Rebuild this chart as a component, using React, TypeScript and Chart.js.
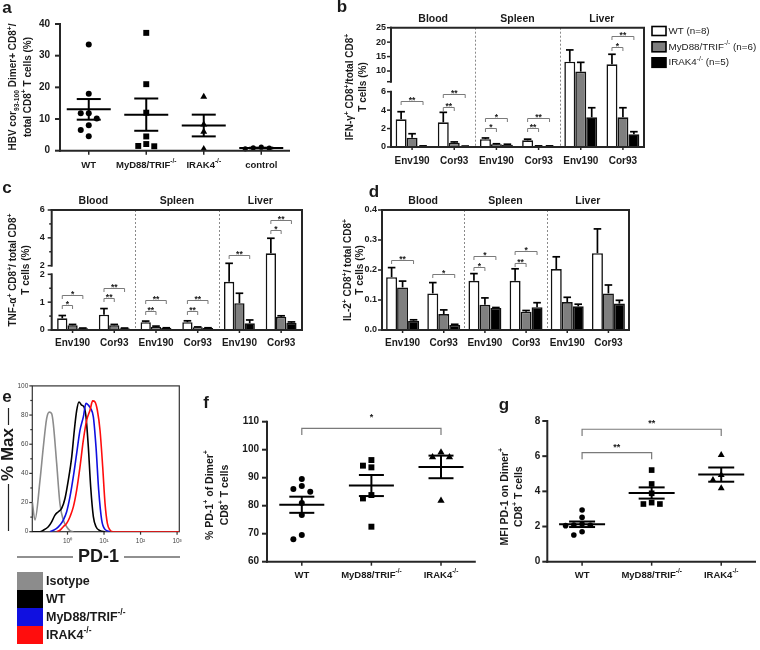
import React, { useEffect, useRef } from 'react';
import { Chart, registerables, LinearScale } from 'chart.js';

Chart.register(...registerables);

/* ====================== DATA ====================== */
// panel a
const aLabels = ['WT', 'MyD88/TRIF^{-/-}', 'IRAK4^{-/-}', 'control'];
const aWT = [33.5, 18, 11.8, 11.8, 10.2, 8, 6.5, 4.6];
const aMyD = [37.2, 21, 12, 4.5, 2.1, 1.5, 1.4];
const aIRAK = [17, 8.3, 6, 0.5];
const aCtrl = [1.1, 0.9, 0.8, 0.6];
const aTicks = [0, 10, 20, 30, 40];

// panels b, c, d
const sections = ['Blood', 'Spleen', 'Liver'];
const peptides = ['Env190', 'Cor93', 'Env190', 'Cor93', 'Env190', 'Cor93'];
const bLegend = ['WT (n=8)', 'MyD88/TRIF^{-/-} (n=6)', 'IRAK4^{-/-} (n=5)'];

const bWT = [3.0, 2.68, 0.85, 0.72, 13.2, 12.3];
const bWTErr = [0.83, 1.08, 0.13, 0.13, 4.1, 3.5];
const bMyD = [1.0, 0.47, 0.3, 0.1, 9.8, 3.22];
const bMyDErr = [0.44, 0.08, 0.05, 0.02, 3.2, 1.04];
const bIRAK = [0.1, 0.08, 0.25, 0.1, 3.22, 1.37];
const bIRAKErr = [0.02, 0.02, 0.05, 0.02, 1.04, 0.29];
const bTicks = [0, 2, 4, 6, 10, 15, 20, 25];
const bBreak = [6, 6.3];
const bSig: [number, number, number, string][] = [
  [0, 2, 5.0, '**'], [1, 1, 4.37, '**'], [1, 2, 5.75, '**'],
  [2, 1, 2.03, '*'], [2, 2, 3.1, '*'], [3, 1, 2.03, '**'], [3, 2, 3.1, '**'],
  [5, 1, 18.4, '*'], [5, 2, 22.2, '**'],
];

const cWT = [0.42, 0.55, 0.28, 0.28, 1.73, 2.89];
const cWTErr = [0.1, 0.22, 0.04, 0.05, 0.44, 1.08];
const cMyD = [0.17, 0.17, 0.12, 0.1, 0.96, 0.48];
const cMyDErr = [0.03, 0.03, 0.02, 0.01, 0.36, 0.03];
const cIRAK = [0.06, 0.06, 0.07, 0.07, 0.24, 0.26];
const cIRAKErr = [0.01, 0.01, 0.01, 0.01, 0.12, 0.03];
const cTicks = [0, 1, 2, 4, 6];
const cMinor = [0.5, 1.5, 3, 5];
const cBreak = [2, 2.0001];
const cSig: [number, number, number, string][] = [
  [0, 1, 0.9, '*'], [0, 2, 1.26, '*'], [1, 1, 1.15, '**'], [1, 2, 1.5, '**'],
  [2, 1, 0.68, '**'], [2, 2, 1.06, '**'], [3, 1, 0.68, '**'], [3, 2, 1.06, '**'],
  [4, 2, 2.8, '**'], [5, 1, 4.57, '*'], [5, 2, 5.29, '**'],
];

const dWT = [0.176, 0.122, 0.164, 0.164, 0.203, 0.256];
const dWTErr = [0.032, 0.036, 0.024, 0.04, 0.041, 0.081];
const dMyD = [0.142, 0.053, 0.084, 0.061, 0.093, 0.122];
const dMyDErr = [0.021, 0.014, 0.023, 0.004, 0.016, 0.028];
const dIRAK = [0.031, 0.017, 0.073, 0.076, 0.079, 0.088];
const dIRAKErr = [0.003, 0.002, 0.002, 0.015, 0.007, 0.011];
const dTicks = [0, 0.1, 0.2, 0.3, 0.4];
const dSig: [number, number, number, string][] = [
  [0, 2, 0.233, '**'], [1, 2, 0.186, '*'], [2, 1, 0.211, '*'], [2, 2, 0.248, '*'],
  [3, 1, 0.224, '**'], [3, 2, 0.263, '*'],
];

// panel e (histogram, PD-1 log axis vs % Max)
const eLegend = ['Isotype', 'WT', 'MyD88/TRIF^{-/-}', 'IRAK4^{-/-}'];
const eIsoX = [0.1088, 0.1287, 0.1764, 0.2177, 0.2686, 0.3179, 0.3683, 0.4091, 0.5049, 0.623, 0.7688, 0.9488, 1.171, 1.445];
const eIsoY = [20.5, 8, 35, 58, 77.6, 82, 81, 74, 47, 19, 8, 3.4, 0.7, 0];
const eWTX = [0.1088, 0.1764, 0.2177, 0.2985, 0.3683, 0.4545, 0.5608, 0.6921, 0.854, 1.054, 1.301, 1.539, 1.783, 2.066, 2.444, 2.832, 3.212, 3.722, 4.312, 5.103, 6.037, 7.77, 10.65];
const eWTY = [0, 0, 1, 3.4, 6.8, 11.4, 13.7, 16, 22.8, 35.4, 51, 69.6, 83, 89, 86.8, 85.6, 78.8, 58, 30.8, 10.3, 3.4, 0.7, 0];
const eMyDX = [0.3316, 0.4091, 0.5049, 0.623, 0.7688, 0.9488, 1.171, 1.445, 1.783, 2.2, 2.715, 3.212, 3.722, 4.312, 5.103, 6.037, 7.143, 8.632, 10.65, 14.6];
const eMyDY = [0, 1, 2.3, 4.6, 8, 13.7, 24, 37.7, 53.7, 69.6, 78.8, 88, 86.8, 84.5, 78.8, 58, 28.5, 8, 1.6, 0];
const eIRAKX = [0.5049, 0.623, 0.7688, 0.9488, 1.171, 1.445, 1.783, 2.2, 2.715, 3.35, 4.135, 4.892, 5.668, 6.568, 7.77, 9.194, 10.65, 12.34, 14.6, 18.02, 1150];
const eIRAKY = [0, 1, 3.4, 5.7, 10.3, 17, 28.5, 44.5, 62.8, 76.5, 83.3, 89.7, 89, 83.3, 69.6, 44.5, 19.4, 5.7, 1.1, 0, 0];
const eXTicks = [1, 10, 100, 1000];
const eXLabels = ['10\u2070', '10\u00b9', '10\u00b2', '10\u00b3'];
const eYTicks = [0, 20, 40, 60, 80, 100];
const eYMinor = [10, 30, 50, 70, 90];

// panels f, g
const fgLabels = ['WT', 'MyD88/TRIF^{-/-}', 'IRAK4^{-/-}'];
const fWT = [89.5, 87, 86, 85, 81, 76.7, 69.5, 68];
const fMyD = [96.3, 94.3, 93.7, 83.8, 82.6, 72.5];
const fIRAK = [99, 97.3, 97.3, 81.8];
const fTicks = [60, 70, 80, 90, 100, 110];
const fSig: [number, number, number, string][] = [[0, 2, 107.6, '*']];
const gWT = [2.94, 2.52, 2.14, 2.08, 2.07, 2.05, 1.7, 1.52];
const gMyD = [5.21, 4.42, 3.89, 3.36, 3.28, 3.28];
const gIRAK = [6.07, 4.93, 4.64, 4.17];
const gTicks = [0, 2, 4, 6, 8];
const gSig: [number, number, number, string][] = [[0, 1, 6.2, '**'], [0, 2, 7.53, '**']];

/* ====================== HELPERS ====================== */
const FAM = '"Liberation Sans", Arial, Helvetica, sans-serif';
const TXT = '#1a1a1a';
const AXC = '#262626';
const BRK = '#7a7a7a';

type Rect = { x: number; y: number; w: number; h: number };
type Area = { l: number; t: number; r: number; b: number };

function makeBroken(id: string, kv: number[], kf: number[]) {
  class Broken extends (LinearScale as any) {
    static id = id;
    getPixelForValue(value: number) {
      let i = 0;
      while (i < kv.length - 2 && value > kv[i + 1]) i++;
      const f = kf[i] + ((value - kv[i]) / (kv[i + 1] - kv[i])) * (kf[i + 1] - kf[i]);
      return (this as any).getPixelForDecimal(f);
    }
    getValueForPixel(pixel: number) {
      const f = (this as any).getDecimalForPixel(pixel);
      let i = 0;
      while (i < kf.length - 2 && f > kf[i + 1]) i++;
      return kv[i] + ((f - kf[i]) / (kf[i + 1] - kf[i])) * (kv[i + 1] - kv[i]);
    }
  }
  return Broken;
}
const BrokenB = makeBroken('brokenB', [0, bBreak[0], bBreak[1], 25], [0, 0.4635, 0.5474, 1]);
const BrokenC = makeBroken('brokenC', [0, cBreak[0], cBreak[1], 6], [0, 0.464, 0.536, 1]);
Chart.register(BrokenB as any, BrokenC as any);

function line(ctx: any, x0: number, y0: number, x1: number, y1: number) {
  ctx.beginPath();
  ctx.moveTo(x0, y0);
  ctx.lineTo(x1, y1);
  ctx.stroke();
}

function parseRich(s: string) {
  const out: { t: string; k: number }[] = [];
  let buf = '';
  let i = 0;
  while (i < s.length) {
    const c = s[i];
    if ((c === '^' || c === '_') && s[i + 1] === '{') {
      if (buf) { out.push({ t: buf, k: 0 }); buf = ''; }
      const end = s.indexOf('}', i + 2);
      out.push({ t: s.slice(i + 2, end), k: c === '^' ? 1 : -1 });
      i = end + 1;
    } else { buf += c; i++; }
  }
  if (buf) out.push({ t: buf, k: 0 });
  return out;
}

function rich(ctx: any, s: string, x: number, y: number, size: number, o: any = {}) {
  const segs = parseRich(s);
  const wt = o.bold === false ? '' : 'bold ';
  const font = (k: number) => `${wt}${k ? Math.round(size * 0.68 * 10) / 10 : size}px ${FAM}`;
  let total = 0;
  const widths = segs.map((sg) => { ctx.font = font(sg.k); const m = ctx.measureText(sg.t).width; total += m; return m; });
  ctx.save();
  ctx.translate(x, y);
  if (o.rot) ctx.rotate(-Math.PI / 2);
  ctx.fillStyle = o.color || TXT;
  ctx.textBaseline = 'middle';
  ctx.textAlign = 'left';
  let cx = o.align === 'left' ? 0 : o.align === 'right' ? -total : -total / 2;
  segs.forEach((sg, i) => {
    ctx.font = font(sg.k);
    const dy = sg.k === 1 ? -size * 0.36 : sg.k === -1 ? size * 0.3 : 0;
    ctx.fillText(sg.t, cx, dy);
    cx += widths[i];
  });
  ctx.restore();
}

function meanSem(v: number[]) {
  const n = v.length;
  const m = v.reduce((a, b) => a + b, 0) / n;
  const sd = Math.sqrt(v.reduce((a, b) => a + (b - m) * (b - m), 0) / (n - 1));
  return [m, sd / Math.sqrt(n)];
}

// beeswarm placement of dots around a group centre (layout only)
function swarm(vals: number[], g: number, pxY: number, pxX: number, d: number, step: number) {
  const placed: { dx: number; py: number }[] = [];
  return vals.map((v) => {
    const py = v * pxY;
    let dx = 0;
    for (const k of [0, -1, 1, -2, 2, -3, 3, -4, 4]) {
      dx = k * step;
      if (placed.every((p) => Math.hypot(p.dx - dx, p.py - py) >= d)) break;
    }
    placed.push({ dx, py });
    return { x: g + dx / pxX, y: v };
  });
}

function base(cv: Rect, ar: Area) {
  return {
    responsive: false,
    maintainAspectRatio: false,
    animation: false,
    devicePixelRatio: 1,
    events: [],
    layout: { padding: { left: 0, top: ar.t - cv.y, right: cv.x + cv.w - ar.r, bottom: 0 } },
    plugins: { legend: { display: false }, tooltip: { enabled: false }, title: { display: false } },
  };
}
const noGrid = { display: false, drawTicks: false };
const noBorder = { display: false };

/* ====================== SCATTER PANELS (a, f, g) ====================== */
function makeScatter(canvas: HTMLCanvasElement, cv: Rect, ar: Area, P: any) {
  const n = P.sets.length;
  const pxY = (ar.b - ar.t) / (P.yMax - P.yMin);
  const pxX = (ar.r - ar.l) / n;
  const plugin = {
    id: 'sdeco',
    afterDraw(chart: any) {
      const ctx = chart.ctx;
      const xs = chart.scales.x, ys = chart.scales.y;
      const { left, right, bottom } = chart.chartArea;
      ctx.save();
      ctx.strokeStyle = AXC; ctx.lineWidth = 2;
      line(ctx, left, ys.getPixelForValue(P.yMax) - 1, left, bottom + 1);
      line(ctx, left - 1, bottom, right, bottom);
      P.ticks.forEach((t: number) => { const py = ys.getPixelForValue(t); line(ctx, left - 5, py, left, py); });
      ctx.lineWidth = 1.5;
      for (let g = 0; g < n; g++) { const px = xs.getPixelForValue(g); line(ctx, px, bottom, px, bottom + 4); }
      ctx.strokeStyle = '#000'; ctx.lineWidth = 2;
      P.sets.forEach((vals: number[], g: number) => {
        const [m, se] = meanSem(vals);
        const px = xs.getPixelForValue(g);
        const pm = ys.getPixelForValue(m), pu = ys.getPixelForValue(m + se), pl = ys.getPixelForValue(m - se);
        line(ctx, px - P.meanHalf, pm, px + P.meanHalf, pm);
        line(ctx, px - P.semHalf, pu, px + P.semHalf, pu);
        line(ctx, px - P.semHalf, pl, px + P.semHalf, pl);
        line(ctx, px, pu, px, pl);
      });
      ctx.strokeStyle = BRK; ctx.lineWidth = 1.2;
      P.sig.forEach(([a, b, v, lab]: any) => {
        const x0 = xs.getPixelForValue(a), x1 = xs.getPixelForValue(b), py = ys.getPixelForValue(v);
        ctx.beginPath(); ctx.moveTo(x0, py + P.drop); ctx.lineTo(x0, py); ctx.lineTo(x1, py); ctx.lineTo(x1, py + P.drop); ctx.stroke();
        ctx.fillStyle = TXT; ctx.font = `bold 9px ${FAM}`; ctx.textAlign = 'center'; ctx.textBaseline = 'alphabetic';
        ctx.fillText(lab, (x0 + x1) / 2, py + P.starDy);
      });
      P.labels.forEach((lab: string, g: number) => rich(ctx, lab, xs.getPixelForValue(g), bottom + P.labDy, 9.5));
      ctx.translate(-cv.x, -cv.y);
      P.titles.forEach(([t, x, y]: any) => rich(ctx, t, x, y, P.tsize, { rot: true }));
      rich(ctx, P.letter[0], P.letter[1], P.letter[2], 17);
      ctx.restore();
    },
  };
  return new Chart(canvas, {
    type: 'scatter',
    data: {
      datasets: P.sets.map((vals: number[], g: number) => ({
        data: swarm(vals, g, pxY, pxX, P.dot, P.step),
        pointStyle: P.styles[g],
        pointRadius: P.radii[g],
        backgroundColor: '#000',
        borderColor: '#000',
        borderWidth: 0,
        clip: false,
      })),
    },
    options: {
      ...base(cv, ar),
      scales: {
        x: {
          type: 'linear', min: -0.5, max: n - 0.5, grid: noGrid, border: noBorder,
          ticks: { display: false },
          afterFit: (s: any) => { s.height = cv.y + cv.h - ar.b; },
        },
        y: {
          type: 'linear', min: P.yMin, max: P.yMax, grid: noGrid, border: noBorder,
          afterBuildTicks: (s: any) => { s.ticks = P.ticks.map((v: number) => ({ value: v })); },
          ticks: { font: { family: FAM, size: 10, weight: 'bold' }, color: TXT, padding: P.yPad, autoSkip: false },
          afterFit: (s: any) => { s.width = ar.l - cv.x; },
        },
      },
    } as any,
    plugins: [plugin],
  });
}

/* ====================== BAR PANELS (b, c, d) ====================== */
function makeBar(canvas: HTMLCanvasElement, cv: Rect, ar: Area, P: any) {
  const allTicks = [...P.ticks, ...P.minor, ...P.extra].sort((a: number, b: number) => a - b);
  const fills = ['#ffffff', '#7f7f7f', '#000000'];
  const plugin = {
    id: 'bdeco',
    afterDraw(chart: any) {
      const ctx = chart.ctx;
      const xs = chart.scales.x, ys = chart.scales.y;
      const { left, right, top, bottom } = chart.chartArea;
      ctx.save();
      ctx.strokeStyle = '#8a8a8a'; ctx.lineWidth = 1; ctx.setLineDash([2, 2]);
      [1.5, 3.5].forEach((c) => { const px = Math.round(xs.getPixelForValue(c)) + 0.5; line(ctx, px, top, px, bottom); });
      ctx.setLineDash([]);
      // error bars
      ctx.strokeStyle = '#000'; ctx.lineWidth = 1.7;
      for (let k = 0; k < 3; k++) {
        chart.getDatasetMeta(k).data.forEach((el: any, i: number) => {
          const v = P.vals[k][i];
          const y0 = ys.getPixelForValue(v), y1 = ys.getPixelForValue(v + P.errs[k][i]);
          line(ctx, el.x, y0, el.x, y1);
          line(ctx, el.x - 3.8, y1, el.x + 3.8, y1);
        });
      }
      // significance brackets
      ctx.strokeStyle = BRK; ctx.lineWidth = 1;
      P.sig.forEach(([cat, to, v, lab]: any) => {
        const x0 = chart.getDatasetMeta(0).data[cat].x, x1 = chart.getDatasetMeta(to).data[cat].x;
        const py = Math.round(ys.getPixelForValue(v)) + 0.5;
        ctx.beginPath(); ctx.moveTo(x0, py + 3.5); ctx.lineTo(x0, py); ctx.lineTo(x1, py); ctx.lineTo(x1, py + 3.5); ctx.stroke();
        ctx.fillStyle = TXT; ctx.font = `bold 8.5px ${FAM}`; ctx.textAlign = 'center'; ctx.textBaseline = 'alphabetic';
        ctx.fillText(lab, (x0 + x1) / 2, py + 1);
      });
      // axes and frame
      ctx.strokeStyle = AXC; ctx.lineWidth = 2;
      P.segs.forEach(([a, b]: number[]) => line(ctx, left, ys.getPixelForValue(a) + 1, left, ys.getPixelForValue(b) - 1));
      line(ctx, left - 1, top, right + 1, top);
      line(ctx, right, top, right, bottom + 1);
      line(ctx, left - 1, bottom, right + 1, bottom);
      ctx.lineWidth = 1.5;
      allTicks.forEach((t: number) => {
        const py = ys.getPixelForValue(t);
        line(ctx, left - (P.minor.includes(t) ? 2.5 : 4), py, left, py);
      });
      peptides.forEach((_, i) => { const px = xs.getPixelForValue(i); line(ctx, px, bottom, px, bottom + 3); });
      sections.forEach((s, i) => rich(ctx, s, xs.getPixelForValue(i * 2 + 0.5), top - 8.5, 10.5));
      // page-coordinate decorations
      ctx.translate(-cv.x, -cv.y);
      P.titles.forEach(([t, x, y]: any) => rich(ctx, t, x, y, 10, { rot: true }));
      rich(ctx, P.letter[0], P.letter[1], P.letter[2], 17);
      if (P.legend) {
        const rows = [[26.5, 9], [41.8, 10], [57.8, 9.5]];
        bLegend.forEach((t, i) => {
          const [yy, hh] = rows[i];
          ctx.fillStyle = fills[i]; ctx.fillRect(652, yy, 14, hh);
          ctx.strokeStyle = '#000'; ctx.lineWidth = 1.6; ctx.strokeRect(652, yy, 14, hh);
          rich(ctx, t, 668.5, yy + hh / 2, 9.8, { bold: false, align: 'left' });
        });
      }
      ctx.restore();
    },
  };
  return new Chart(canvas, {
    type: 'bar',
    data: {
      labels: peptides,
      datasets: [0, 1, 2].map((k) => ({
        data: P.vals[k],
        backgroundColor: fills[k],
        borderColor: '#111',
        borderWidth: 1.6,
        categoryPercentage: P.cat,
        barPercentage: 1,
      })),
    },
    options: {
      ...base(cv, ar),
      scales: {
        x: {
          type: 'category', offset: true, grid: noGrid, border: noBorder,
          ticks: { font: { family: FAM, size: 10, weight: 'bold' }, color: TXT, padding: P.xPad, autoSkip: false, maxRotation: 0 },
          afterFit: (s: any) => { s.height = cv.y + cv.h - ar.b; },
        },
        y: {
          type: P.yType, min: P.min, max: P.max, grid: noGrid, border: noBorder,
          afterBuildTicks: (s: any) => { s.ticks = allTicks.map((v: number) => ({ value: v })); },
          ticks: { font: { family: FAM, size: 9, weight: 'bold' }, color: TXT, padding: P.yPad, autoSkip: false, callback: (v: number) => P.fmt(v) },
          afterFit: (s: any) => { s.width = ar.l - cv.x; },
        },
      },
    } as any,
    plugins: [plugin],
  });
}

/* ====================== HISTOGRAM PANEL (e) ====================== */
function makeHist(canvas: HTMLCanvasElement, cv: Rect, ar: Area) {
  const colors = ['#8c8c8c', '#000000', '#1010e0', '#ff0d0d'];
  const xsArr = [eIsoX, eWTX, eMyDX, eIRAKX];
  const ysArr = [eIsoY, eWTY, eMyDY, eIRAKY];
  const plugin = {
    id: 'edeco',
    beforeDatasetsDraw(chart: any) {
      const ctx = chart.ctx;
      const xs = chart.scales.x, ys = chart.scales.y;
      const { left, right, top, bottom } = chart.chartArea;
      ctx.save();
      ctx.strokeStyle = '#333'; ctx.lineWidth = 1.2;
      ctx.strokeRect(left, top, right - left, bottom - top);
      [...eYTicks, ...eYMinor].forEach((v) => { const py = ys.getPixelForValue(v); line(ctx, left - (eYMinor.includes(v) ? 2 : 3), py, left, py); });
      eXTicks.forEach((v) => { const px = xs.getPixelForValue(v); line(ctx, px, bottom, px, bottom + 3); });
      ctx.restore();
    },
    afterDraw(chart: any) {
      const ctx = chart.ctx;
      ctx.save();
      ctx.translate(-cv.x, -cv.y);
      ctx.strokeStyle = '#222'; ctx.lineWidth = 1.2;
      line(ctx, 8.5, 408, 8.5, 425);
      line(ctx, 8.5, 484, 8.5, 531);
      rich(ctx, '% Max', 8.5, 454.5, 17, { rot: true });
      line(ctx, 17, 557, 73, 557);
      line(ctx, 124, 557, 180, 557);
      rich(ctx, 'PD-1', 98.5, 557, 18);
      rich(ctx, 'e', 7, 397, 17);
      const rowY = [572, 590, 608, 626];
      eLegend.forEach((t, i) => {
        ctx.fillStyle = colors[i];
        ctx.fillRect(17, rowY[i], 26, 18);
        rich(ctx, t, 46, rowY[i] + 9.5, 12.5, { align: 'left' });
      });
      ctx.restore();
    },
  };
  return new Chart(canvas, {
    type: 'scatter',
    data: {
      datasets: [0, 1, 2, 3].map((k) => ({
        data: xsArr[k].map((x, i) => ({ x, y: ysArr[k][i] })),
        showLine: true,
        borderColor: colors[k],
        borderWidth: 1.6,
        pointRadius: 0,
        cubicInterpolationMode: 'monotone',
        order: 3 - k,
      })),
    },
    options: {
      ...base(cv, ar),
      scales: {
        x: {
          type: 'logarithmic', min: 0.1088, max: 1150, grid: noGrid, border: noBorder,
          afterBuildTicks: (s: any) => { s.ticks = eXTicks.map((v) => ({ value: v })); },
          ticks: { font: { family: FAM, size: 6.5 }, color: '#444', padding: 6, autoSkip: false, maxRotation: 0, callback: (v: number) => eXLabels[eXTicks.indexOf(v)] },
          afterFit: (s: any) => { s.height = cv.y + cv.h - ar.b; },
        },
        y: {
          type: 'linear', min: 0, max: 100, grid: noGrid, border: noBorder,
          afterBuildTicks: (s: any) => { s.ticks = [...eYTicks, ...eYMinor].sort((a, b) => a - b).map((v) => ({ value: v })); },
          ticks: { font: { family: FAM, size: 6.5 }, color: '#444', padding: 4, autoSkip: false, callback: (v: number) => (eYTicks.includes(v) ? String(v) : '') },
          afterFit: (s: any) => { s.width = ar.l - cv.x; },
        },
      },
    } as any,
    plugins: [plugin],
  });
}

/* ====================== LAYOUT ====================== */
const cvA: Rect = { x: 0, y: 0, w: 300, h: 178 };
const arA: Area = { l: 60, t: 24, r: 290, b: 150.7 };
const cvB: Rect = { x: 335, y: 0, w: 425, h: 178 };
const arB: Area = { l: 391, t: 27.7, r: 644, b: 147 };
const cvC: Rect = { x: 0, y: 178, w: 312, h: 172 };
const arC: Area = { l: 51.7, t: 210, r: 302, b: 330 };
const cvD: Rect = { x: 335, y: 178, w: 300, h: 172 };
const arD: Area = { l: 382, t: 210, r: 629, b: 330 };
const cvE: Rect = { x: 0, y: 378, w: 190, h: 272 };
const arE: Area = { l: 32.3, t: 385.7, r: 179.3, b: 531.7 };
const cvF: Rect = { x: 195, y: 388, w: 285, h: 202 };
const arF: Area = { l: 267, t: 421.7, r: 477, b: 561.7 };
const cvG: Rect = { x: 490, y: 388, w: 270, h: 202 };
const arG: Area = { l: 547.3, t: 421, r: 757.3, b: 561.7 };

const makers: { cv: Rect; make: (c: HTMLCanvasElement) => Chart }[] = [
  {
    cv: cvA,
    make: (c) => makeScatter(c, cvA, arA, {
      sets: [aWT, aMyD, aIRAK, aCtrl], styles: ['circle', 'rect', 'triangle', 'circle'], radii: [3, 4.2, 4, 2.6],
      yMin: 0, yMax: 40, ticks: aTicks, labels: aLabels, dot: 6, step: 8, yPad: 10, meanHalf: 22, semHalf: 12,
      sig: [], drop: 0, starDy: 0, labDy: 14.3,
      titles: [['HBV cor_{93-100} Dimer+ CD8^{+}/', 13.7, 87], ['total CD8^{+} T cells (%)', 27.8, 87]], tsize: 10,
      letter: ['a', 7, 8],
    }),
  },
  {
    cv: cvB,
    make: (c) => makeBar(c, cvB, arB, {
      vals: [bWT, bMyD, bIRAK], errs: [bWTErr, bMyDErr, bIRAKErr], sig: bSig, cat: 0.78,
      yType: 'brokenB', min: 0, max: 25, ticks: bTicks, minor: [], extra: [bBreak[1]],
      segs: [[0, bBreak[0]], [bBreak[1], 25]], fmt: (v: number) => (v === bBreak[1] ? '' : String(v)),
      yPad: 5, xPad: 8,
      titles: [['IFN-\u03b3^{+} CD8^{+}/total CD8^{+}', 350.7, 87], ['T cells (%)', 363.3, 87]],
      letter: ['b', 342, 7], legend: true,
    }),
  },
  {
    cv: cvC,
    make: (c) => makeBar(c, cvC, arC, {
      vals: [cWT, cMyD, cIRAK], errs: [cWTErr, cMyDErr, cIRAKErr], sig: cSig, cat: 0.74,
      yType: 'brokenC', min: 0, max: 6, ticks: cTicks, minor: cMinor, extra: [cBreak[1]],
      segs: [[0, cBreak[0]], [cBreak[1], 6]], fmt: (v: number) => (cMinor.includes(v) ? '' : String(Math.round(v))),
      yPad: 7, xPad: 7,
      titles: [['TNF-\u03b1^{+} CD8^{+}/ total CD8^{+}', 13.5, 270], ['T cells (%)', 26.7, 270]],
      letter: ['c', 7, 188], legend: false,
    }),
  },
  {
    cv: cvD,
    make: (c) => makeBar(c, cvD, arD, {
      vals: [dWT, dMyD, dIRAK], errs: [dWTErr, dMyDErr, dIRAKErr], sig: dSig, cat: 0.8,
      yType: 'linear', min: 0, max: 0.4, ticks: dTicks, minor: [], extra: [],
      segs: [[0, 0.4]], fmt: (v: number) => v.toFixed(1),
      yPad: 5, xPad: 7,
      titles: [['IL-2^{+} CD8^{+}/ total CD8^{+}', 348.3, 270], ['T cells (%)', 360.5, 270]],
      letter: ['d', 374, 192], legend: false,
    }),
  },
  { cv: cvE, make: (c) => makeHist(c, cvE, arE) },
  {
    cv: cvF,
    make: (c) => makeScatter(c, cvF, arF, {
      sets: [fWT, fMyD, fIRAK], styles: ['circle', 'rect', 'triangle'], radii: [3, 4.2, 4.2],
      yMin: 60, yMax: 110, ticks: fTicks, labels: fgLabels, dot: 6.5, step: 8.5, yPad: 8, meanHalf: 22.5, semHalf: 12.5,
      sig: fSig, drop: 6.7, starDy: -8, labDy: 13.3,
      titles: [['% PD-1^{+} of Dimer^{+}', 210, 495], ['CD8^{+} T cells', 225, 495]], tsize: 10.5,
      letter: ['f', 206, 403],
    }),
  },
  {
    cv: cvG,
    make: (c) => makeScatter(c, cvG, arG, {
      sets: [gWT, gMyD, gIRAK], styles: ['circle', 'rect', 'triangle'], radii: [2.8, 4, 4],
      yMin: 0, yMax: 8, ticks: gTicks, labels: fgLabels, dot: 6, step: 8.3, yPad: 7, meanHalf: 23, semHalf: 13,
      sig: gSig, drop: 6.7, starDy: -3, labDy: 13.3,
      titles: [['MFI PD-1 on Dimer^{+}', 505, 496.7], ['CD8^{+} T cells', 519.3, 496.7]], tsize: 10.5,
      letter: ['g', 504, 405],
    }),
  },
];

function ChartBox({ cv, make }: { cv: Rect; make: (c: HTMLCanvasElement) => Chart }) {
  const ref = useRef<HTMLCanvasElement>(null);
  useEffect(() => {
    const ch = make(ref.current as HTMLCanvasElement);
    return () => ch.destroy();
  }, [make]);
  return (
    <canvas
      ref={ref}
      width={cv.w}
      height={cv.h}
      style={{ position: 'absolute', left: cv.x, top: cv.y, width: cv.w, height: cv.h }}
    />
  );
}

export default function App() {
  return (
    <div style={{ position: 'fixed', left: 0, top: 0, width: 760, height: 650, background: '#ffffff', overflow: 'hidden' }}>
      {makers.map((m, i) => (
        <ChartBox key={i} cv={m.cv} make={m.make} />
      ))}
    </div>
  );
}
